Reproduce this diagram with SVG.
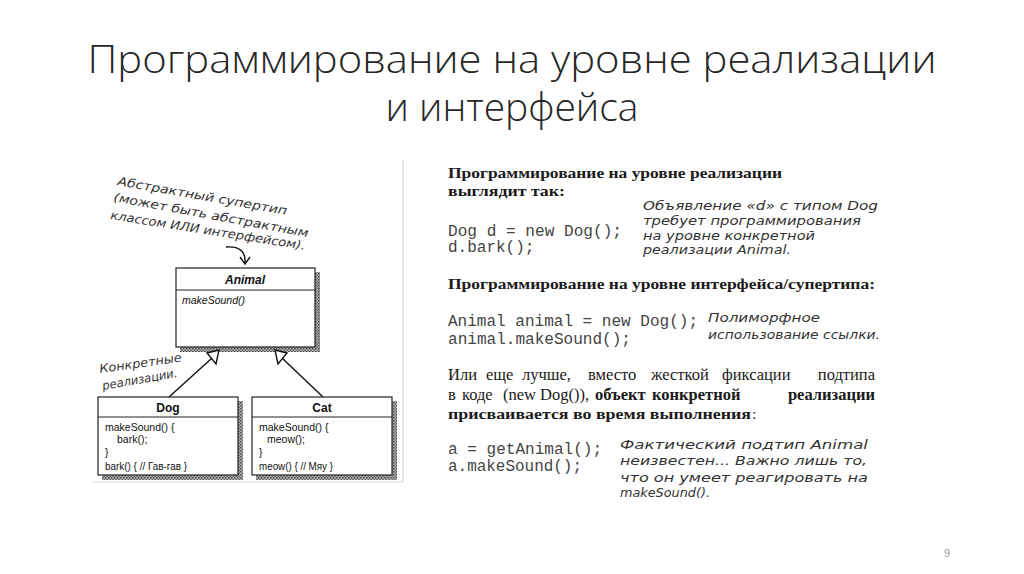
<svg xmlns="http://www.w3.org/2000/svg" width="1024" height="574" viewBox="0 0 1024 574">
<defs>
<pattern id="hatch" width="3" height="3" patternUnits="userSpaceOnUse">
<rect width="3" height="3" fill="#bbb"/>
<rect width="1.5" height="1.5" fill="#444"/>
<rect x="1.5" y="1.5" width="1.5" height="1.5" fill="#666"/>
</pattern>
</defs>
<style>
.title{font-family:"Open Sans","Liberation Sans",sans-serif;font-weight:300;font-size:39px;fill:#262626;text-anchor:middle}
.uml{font-family:"Liberation Sans",Arial,sans-serif;font-size:10.5px;fill:#111}
.umlb{font-family:"Liberation Sans",Arial,sans-serif;font-size:12px;font-weight:bold;fill:#111;text-anchor:middle}
.box{fill:#fff;stroke:#222;stroke-width:1.2}
.hand{font-family:"DejaVu Sans","Liberation Sans",sans-serif;font-style:italic;font-size:12px;fill:#333}
.serif{font-family:"Liberation Serif","Times New Roman",serif;font-size:15.5px;fill:#1a1a1a}
.big{font-size:16.5px}
.bold{font-weight:bold}
.end{text-anchor:end}
.mono{font-family:"Liberation Mono","Courier New",monospace;font-size:16px;fill:#444}
.conn{stroke:#111;stroke-width:1.4;fill:none}
.tri{fill:#fff;stroke:#111;stroke-width:1.4}
</style>
<rect width="1024" height="574" fill="#fff"/>
<text class="title" x="512" y="73" textLength="849" lengthAdjust="spacingAndGlyphs">Программирование на уровне реализации</text>
<text class="title" x="512" y="121">и интерфейса</text>

<g id="left-figure">
<line x1="403" y1="160" x2="403" y2="482" stroke="#e6e6e6" stroke-width="2"/>
<line x1="92" y1="482" x2="403" y2="482" stroke="#ececec" stroke-width="2"/>
<g id="note-abstract">
<text class="hand" transform="translate(117,185) rotate(10)" textLength="172" lengthAdjust="spacingAndGlyphs">Абстрактный супертип</text>
<text class="hand" transform="translate(113,201) rotate(10.5)" textLength="198" lengthAdjust="spacingAndGlyphs">(может быть абстрактным</text>
<text class="hand" transform="translate(110,219) rotate(9)" textLength="197" lengthAdjust="spacingAndGlyphs">классом ИЛИ интерфейсом).</text>
<path class="conn" d="M226,247 C239,246 246,251 245,263"/>
<path class="conn" d="M240,257 L245,264 L250,257"/>
</g>
<g id="note-concrete">
<text class="hand" transform="translate(100,373) rotate(-8)" textLength="83" lengthAdjust="spacingAndGlyphs">Конкретные</text>
<text class="hand" transform="translate(103,390) rotate(-10)" textLength="76" lengthAdjust="spacingAndGlyphs">реализации.</text>
</g>
<g id="connectors">
<line class="conn" x1="169" y1="397" x2="211.5" y2="358.5"/>
<line class="conn" x1="323" y1="397" x2="282.5" y2="358.5"/>
</g>
<g id="animal">
<path d="M315,272 h5 v80 h-140 v-5 h135 z" fill="url(#hatch)"/>
<rect class="box" x="176" y="268" width="139" height="79"/>
<line x1="176" y1="290" x2="315" y2="290" stroke="#222" stroke-width="1"/>
<text class="umlb" x="245" y="284" font-style="italic">Animal</text>
<text class="uml" x="182" y="304" font-style="italic">makeSound()</text>
</g>
<polygon class="tri" points="219,350 207,353 216,364"/>
<polygon class="tri" points="275,350 287,353 278,364"/>
<g id="dog">
<path d="M238,401 h5 v79 h-141 v-5 h136 z" fill="url(#hatch)"/>
<rect class="box" x="98" y="397" width="140" height="78"/>
<line x1="98" y1="417" x2="238" y2="417" stroke="#222" stroke-width="1"/>
<text class="umlb" x="168" y="412">Dog</text>
<text class="uml" x="105" y="431">makeSound() {</text>
<text class="uml" x="117" y="443">bark();</text>
<text class="uml" x="105" y="456">}</text>
<text class="uml" x="105" y="470" textLength="82" lengthAdjust="spacingAndGlyphs">bark() { // Гав-гав }</text>
</g>
<g id="cat">
<path d="M392,401 h5 v79 h-141 v-5 h136 z" fill="url(#hatch)"/>
<rect class="box" x="252" y="397" width="140" height="78"/>
<line x1="252" y1="417" x2="392" y2="417" stroke="#222" stroke-width="1"/>
<text class="umlb" x="322" y="412">Cat</text>
<text class="uml" x="259" y="431">makeSound() {</text>
<text class="uml" x="267" y="443">meow();</text>
<text class="uml" x="259" y="456">}</text>
<text class="uml" x="259" y="470" textLength="74" lengthAdjust="spacingAndGlyphs">meow() { // Мяу }</text>
</g>
</g>

<g id="right-text">
<text class="serif bold" x="448" y="178" textLength="334" lengthAdjust="spacingAndGlyphs">Программирование на уровне реализации</text>
<text class="serif bold" x="448" y="196" textLength="117" lengthAdjust="spacingAndGlyphs">выглядит так:</text>
<text class="mono" x="448" y="236" textLength="174" lengthAdjust="spacingAndGlyphs">Dog d = new Dog();</text>
<text class="mono" x="448" y="252">d.bark();</text>
<text class="hand" x="643" y="210" textLength="235" lengthAdjust="spacingAndGlyphs">Объявление «d» с типом Dog</text>
<text class="hand" x="643" y="225" textLength="218" lengthAdjust="spacingAndGlyphs">требует программирования</text>
<text class="hand" x="643" y="240" textLength="172" lengthAdjust="spacingAndGlyphs">на уровне конкретной</text>
<text class="hand" x="643" y="254" textLength="148" lengthAdjust="spacingAndGlyphs">реализации Animal.</text>

<text class="serif bold" x="448" y="289" textLength="427" lengthAdjust="spacingAndGlyphs">Программирование на уровне интерфейса/супертипа:</text>
<text class="mono" x="448" y="326" textLength="250" lengthAdjust="spacingAndGlyphs">Animal animal = new Dog();</text>
<text class="mono" x="448" y="344" textLength="183" lengthAdjust="spacingAndGlyphs">animal.makeSound();</text>
<text class="hand" x="708" y="322" textLength="112" lengthAdjust="spacingAndGlyphs">Полиморфное</text>
<text class="hand" x="708" y="339" textLength="172" lengthAdjust="spacingAndGlyphs">использование ссылки.</text>

<g class="serif big">
<text x="448" y="380">Или</text>
<text x="486" y="380">еще</text>
<text x="522" y="380">лучше,</text>
<text x="588" y="380">вместо</text>
<text x="651" y="380">жесткой</text>
<text x="722" y="380">фиксации</text>
<text class="end" x="875" y="380">подтипа</text>
<text x="448" y="400">в</text>
<text x="462" y="400">коде</text>
<text x="503" y="400">(new</text>
<text x="540" y="400">Dog()),</text>
<text class="bold" x="595" y="400">объект</text>
<text class="bold" x="652" y="400">конкретной</text>
<text class="bold end" x="875" y="400">реализации</text>
</g>
<text class="serif bold" x="448" y="419" textLength="303" lengthAdjust="spacingAndGlyphs">присваивается во время выполнения</text>
<text class="serif" x="752" y="419">:</text>

<text class="mono" x="448" y="454" textLength="154" lengthAdjust="spacingAndGlyphs">a = getAnimal();</text>
<text class="mono" x="448" y="471" textLength="134" lengthAdjust="spacingAndGlyphs">a.makeSound();</text>
<text class="hand" x="620" y="449" textLength="248" lengthAdjust="spacingAndGlyphs">Фактический подтип Animal</text>
<text class="hand" x="620" y="465" textLength="247" lengthAdjust="spacingAndGlyphs">неизвестен... Важно лишь то,</text>
<text class="hand" x="620" y="482" textLength="248" lengthAdjust="spacingAndGlyphs">что он умеет реагировать на</text>
<text class="hand" x="620" y="497" textLength="90" lengthAdjust="spacingAndGlyphs">makeSound().</text>
</g>
<text x="944" y="557" font-family="Liberation Sans, sans-serif" font-size="11" fill="#999">9</text>
</svg>
